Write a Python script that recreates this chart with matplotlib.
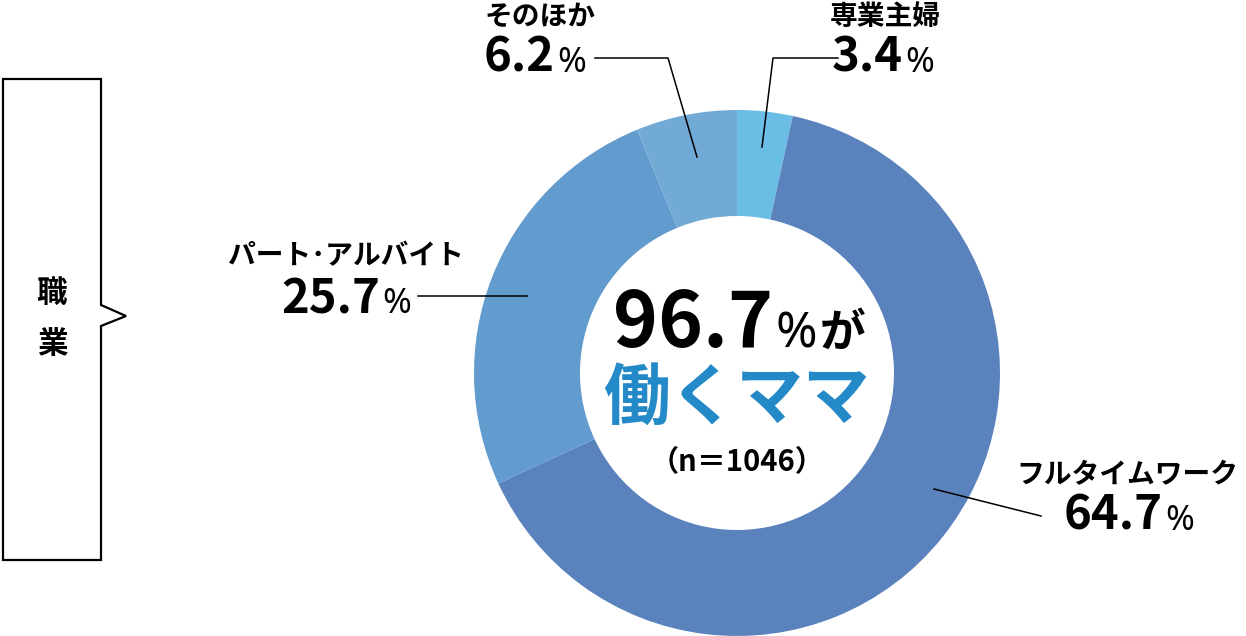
import matplotlib.pyplot as plt
from matplotlib.patches import Polygon

plt.rcParams['font.family'] = ['Noto Sans CJK JP', 'DejaVu Sans']

labels = ["専業主婦", "フルタイムワーク", "パート･アルバイト", "そのほか"]
values = [3.4, 64.7, 25.7, 6.2]
colors = ["#6abde5", "#5a82bc", "#629cce", "#72aad6"]
total_pct = "96.7"
sample_n = 1046

W, H = 1246, 636
PCT_FONT = ['Noto Sans', 'DejaVu Sans']


def Y(y):
    # pixel row (from top) -> data y
    return H - y


fig = plt.figure(figsize=(W / 100, H / 100), dpi=100)
ax = fig.add_axes([0, 0, 1, 1])

ax.pie(values, colors=colors, radius=263, center=(737, Y(373)),
       startangle=90, counterclock=False,
       wedgeprops=dict(width=106, linewidth=0))
ax.set_xlim(0, W)
ax.set_ylim(0, H)
ax.set_aspect('equal')
ax.axis('off')

# left box with pointer
box = Polygon([(3, Y(79)), (101, Y(79)), (101, Y(305)), (126, Y(316)),
               (101, Y(326)), (101, Y(560)), (3, Y(560))],
              closed=True, fill=False, edgecolor='black', linewidth=1.6)
ax.add_patch(box)
ax.text(52, Y(293), "職", fontsize=22, fontweight='bold', ha='center', va='center')
ax.text(52, Y(344), "業", fontsize=22, fontweight='bold', ha='center', va='center')


def pct_label(name, val, name_xy, split_x, base_y):
    ax.text(name_xy[0], Y(name_xy[1]), name, fontsize=20, fontweight='bold',
            ha='center', va='center')
    ax.text(split_x, Y(base_y), f"{val}", fontsize=34, fontweight='bold',
            ha='right', va='baseline')
    ax.text(split_x + 2, Y(base_y), "%", fontsize=25, family=PCT_FONT,
            fontweight='normal', ha='left', va='baseline')


pct_label(labels[3], values[3], (540, 17), 555, 72)
pct_label(labels[0], values[0], (885, 17), 903, 72)
pct_label(labels[2], values[2], (346, 256), 380, 313)
pct_label(labels[1], values[1], (1127, 475), 1163, 530)

# leader lines
lw = 1.1
ax.plot([595, 668, 697], [Y(58), Y(58), Y(157)], color='black', lw=lw)
ax.plot([838, 773, 762], [Y(58), Y(58), Y(147)], color='black', lw=lw)
ax.plot([418, 527], [Y(296), Y(296)], color='black', lw=lw)
ax.plot([934, 1041], [Y(489), Y(516)], color='black', lw=lw)

# centre text
ax.text(773, Y(347), total_pct, fontsize=55, fontweight='bold',
        ha='right', va='baseline')
ax.text(776, Y(347), "%", fontsize=36, family=PCT_FONT, fontweight='normal',
        ha='left', va='baseline')
ax.text(820, Y(347), "が", fontsize=33, fontweight='bold', ha='left', va='baseline')
ax.text(736, Y(399), "働くママ", fontsize=48, fontweight='bold', color='#2389c7',
        ha='center', va='center')
ax.text(737, Y(462), f"（n＝{sample_n}）", fontsize=21, fontweight='bold',
        ha='center', va='center')

fig.savefig("out.png", dpi=100)
